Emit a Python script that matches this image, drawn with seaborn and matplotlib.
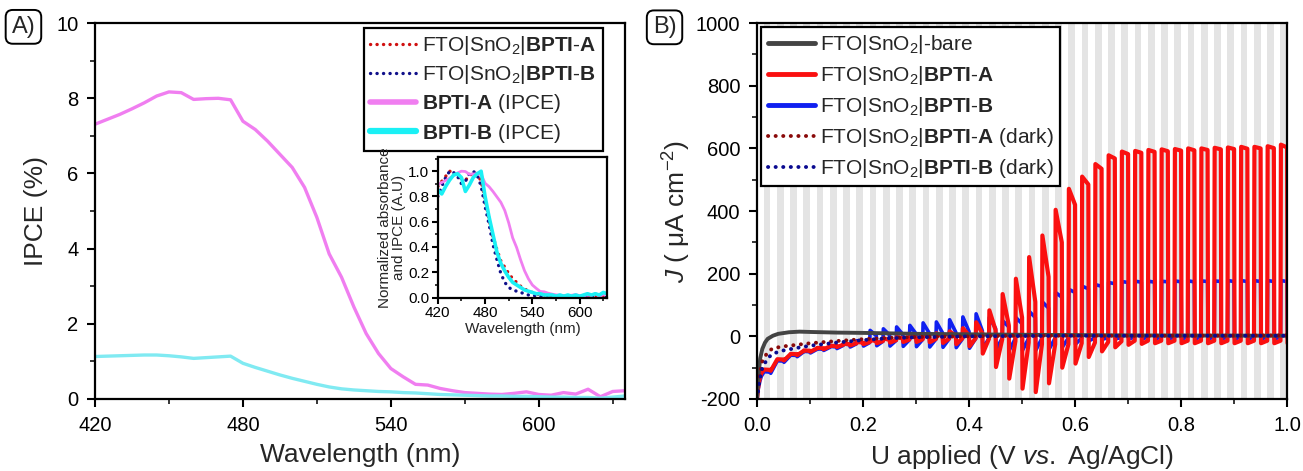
import numpy as np
import seaborn as sns
import matplotlib.pyplot as plt
from matplotlib.ticker import MultipleLocator

# ---------------- data: panel A (IPCE) ----------------
wavelength = np.arange(420, 640, 5)
ipce_a = [7.31, 7.44, 7.57, 7.72, 7.88, 8.06, 8.17, 8.15, 7.97, 7.99,
          8.00, 7.96, 7.39, 7.17, 6.86, 6.51, 6.16, 5.63, 4.83, 3.86,
          3.24, 2.45, 1.74, 1.21, 0.81, 0.59, 0.39, 0.37, 0.28, 0.22,
          0.17, 0.15, 0.13, 0.12, 0.15, 0.19, 0.12, 0.10, 0.17, 0.13,
          0.26, 0.06, 0.20, 0.22]
ipce_b = [1.13, 1.14, 1.15, 1.16, 1.17, 1.17, 1.15, 1.12, 1.08, 1.10,
          1.12, 1.14, 0.95, 0.84, 0.74, 0.64, 0.55, 0.47, 0.39, 0.32,
          0.27, 0.24, 0.22, 0.20, 0.19, 0.17, 0.16, 0.14, 0.12, 0.11,
          0.10, 0.09, 0.08, 0.08, 0.07, 0.07, 0.06, 0.05, 0.05, 0.04,
          0.04, 0.02, 0.05, 0.08]
# inset (normalized)
norm_ipce_b = [0.85, 0.82, 0.88, 0.93, 0.97, 0.98, 0.95, 0.84, 0.89, 0.95,
               0.98, 1.00, 0.80, 0.64, 0.50, 0.36, 0.27, 0.21, 0.16, 0.12,
               0.10, 0.08, 0.06, 0.05, 0.04, 0.03, 0.03, 0.02, 0.02, 0.02,
               0.01, 0.02, 0.01, 0.02, 0.01, 0.02, 0.01, 0.02, 0.03, 0.02,
               0.03, 0.02, 0.04, 0.03]
abs_a = [0.88, 0.92, 0.96, 1.00, 0.99, 0.97, 0.94, 0.93, 0.96, 0.99,
         0.98, 0.92, 0.78, 0.62, 0.48, 0.38, 0.29, 0.24, 0.19, 0.15,
         0.12, 0.09, 0.07, 0.05, 0.04, 0.03, 0.02, 0.02, 0.01, 0.01,
         0.01, 0.01, 0.01, 0.01, 0.01, 0.01, 0.01, 0.01, 0.01, 0.01,
         0.01, 0.01, 0.01, 0.01]
abs_b = [0.80, 0.88, 0.95, 1.00, 0.99, 0.96, 0.90, 0.92, 0.98, 1.00,
         0.97, 0.88, 0.72, 0.58, 0.42, 0.30, 0.19, 0.12, 0.08, 0.06,
         0.05, 0.04, 0.03, 0.02, 0.02, 0.01, 0.01, 0.00, 0.00, 0.00,
         0.00, 0.00, 0.00, 0.00, 0.00, 0.00, 0.00, 0.00, 0.00, 0.00,
         0.00, 0.00, 0.00, 0.00]

# ---------------- data: panel B (chopped-light J-U) ----------------
chop_period = 0.025
first_on = 0.0125
n_cycles = 40

bare_v = [0, 0.003, 0.006, 0.01, 0.015, 0.02, 0.03, 0.04, 0.06, 0.08,
          0.1, 0.15, 0.2, 0.3, 0.5, 0.7, 1.0]
bare_j = [-200, -120, -70, -40, -20, -8, 2, 8, 13, 15,
          14, 12, 11, 8, 5, 3, 2]

dark_v = [0, 0.005, 0.01, 0.02, 0.03, 0.05, 0.075, 0.1, 0.15, 0.2,
          0.25, 0.3, 0.4, 0.5, 0.6, 0.8, 1.0]
dark_a = [-200, -120, -80, -50, -38, -32, -27, -22, -15, -9,
          -5, -2, 0, 2, 2, 2, 3]
dark_b = [-200, -140, -100, -70, -55, -45, -37, -30, -20, -12,
          -6, -3, 0, 1, 2, 2, 2]

red_lead_v = [0.0, 0.002, 0.005, 0.008]
red_lead_j = [-200, -165, -135, -118]
red_base = [-108, -75, -58, -47, -39, -32, -27, -22, -18, -15,
            -12, -10, -9, -8, -7, -6, -6, -8, -10, -15,
            -20, -25, -25, -25, -22, -20, -18, -16, -14, -14,
            -14, -14, -14, -14, -14, -14, -14, -14, -14, -14]
red_peak = [-106, -73, -56, -45, -37, -30, -24, -18, -12, -7,
            -2, 3, 6, 10, 16, 26, 45, 83, 135, 184,
            253, 322, 404, 471, 510, 550, 578, 590, 592, 595,
            597, 598, 600, 600, 602, 603, 605, 605, 607, 612]
red_plat = [-107, -74, -57, -46, -38, -31, -25, -20, -15, -11,
            -7, -5, -3, -1, 1, 3, 10, 20, 35, 60,
            110, 190, 300, 420, 485, 535, 568, 582, 586, 589,
            591, 593, 594, 595, 597, 598, 599, 600, 601, 603]
red_dip = [-110, -77, -60, -49, -41, -34, -29, -25, -22, -20,
           -18, -18, -19, -21, -25, -32, -55, -98, -135, -167,
           -178, -150, -100, -87, -66, -48, -35, -27, -24, -22,
           -22, -22, -22, -22, -22, -22, -22, -22, -22, -22]

blue_lead_v = [0.0, 0.002, 0.005, 0.008]
blue_lead_j = [-200, -170, -145, -128]
blue_base = [-115, -80, -62, -50, -42, -35, -29, -24, -20, -16,
             -13, -11, -10, -9, -8, -8, -7, -6, -6, -6,
             -6, -6, -5, -5, -5, -4, -4, -4, -3, -3,
             -3, -3, -3, -3, -3, -3, -3, -3, -3, -3]
blue_peak = [-113, -78, -60, -48, -40, -32, -24, -14, 19, 24,
             30, 35, 43, 46, 53, 62, 72, 60, 50, 60,
             80, 110, 140, 150, 160, 165, 172, 175, 176, 176,
             176, 177, 177, 177, 177, 178, 178, 178, 178, 178]
blue_plat = [-114, -79, -61, -49, -41, -34, -27, -21, 2, 4,
             6, 8, 10, 11, 13, 15, 18, 25, 30, 40,
             60, 90, 125, 140, 152, 160, 168, 172, 173, 173,
             174, 174, 174, 175, 175, 175, 175, 175, 175, 175]
blue_dip = [-118, -83, -65, -53, -45, -39, -34, -31, -30, -31,
            -32, -33, -34, -35, -36, -38, -40, -42, -45, -45,
            -45, -42, -35, -25, -15, -10, -8, -8, -8, -8,
            -8, -8, -8, -8, -8, -8, -8, -8, -8, -8]

light_on = first_on + chop_period * np.arange(n_cycles)


def chop_trace(lead_v, lead_j, base, peak, plat, dip):
    v, j = list(lead_v), list(lead_j)
    half = chop_period / 2
    for k, on in enumerate(light_on):
        v += [on, on + 0.0008, on + half, on + half + 0.0008]
        j += [base[k], peak[k], plat[k], dip[k]]
    return v, j


red_v, red_j = chop_trace(red_lead_v, red_lead_j, red_base, red_peak, red_plat, red_dip)
blue_v, blue_j = chop_trace(blue_lead_v, blue_lead_j, blue_base, blue_peak, blue_plat, blue_dip)

# ---------------- style ----------------
sns.set_style("ticks")
plt.rcParams['font.family'] = ['Liberation Sans', 'DejaVu Sans']
plt.rcParams.update({
    'mathtext.fontset': 'custom',
    'mathtext.rm': 'Liberation Sans',
    'mathtext.it': 'Liberation Sans:italic',
    'mathtext.bf': 'Liberation Sans:bold',
    'axes.unicode_minus': False,
    'axes.linewidth': 1.6,
    'axes.edgecolor': 'black',
})

fig = plt.figure(figsize=(13.03, 4.71), dpi=100)
axA = fig.add_axes([0.0729, 0.1529, 0.4068, 0.798])
axB = fig.add_axes([0.581, 0.1529, 0.4068, 0.798])
axI = fig.add_axes([0.336, 0.367, 0.130, 0.299])

pink = '#F07EF0'
cyan_main = '#80EAF2'
cyan = '#1AF0F5'
red_dot = '#D01010'
navy_dot = '#10108A'
dots = (0, (0.05, 1.9))


def style_ticks(ax, size=14):
    ax.tick_params(which='major', direction='out', length=6, width=1.5,
                   labelsize=size, pad=6, colors='black')
    ax.tick_params(which='minor', direction='out', length=3.5, width=1.3)
    ax.tick_params(top=False, right=False, which='both')


# ---- panel A ----
sns.lineplot(x=wavelength, y=ipce_a, ax=axA, color=pink, lw=2.4, estimator=None)
sns.lineplot(x=wavelength, y=ipce_b, ax=axA, color=cyan_main, lw=2.4, estimator=None)
axA.set_xlim(420, 635)
axA.set_ylim(0, 10)
axA.xaxis.set_major_locator(MultipleLocator(60))
axA.xaxis.set_minor_locator(MultipleLocator(30))
axA.yaxis.set_major_locator(MultipleLocator(2))
axA.yaxis.set_minor_locator(MultipleLocator(1))
style_ticks(axA, 14.5)
axA.set_xlabel('Wavelength (nm)', fontsize=19, labelpad=6)
axA.set_ylabel('IPCE (%)', fontsize=19, labelpad=6)

# ---- inset ----
sns.lineplot(x=wavelength, y=abs_a, ax=axI, color=red_dot, lw=2.4,
             ls=dots, dash_capstyle='round', estimator=None)
sns.lineplot(x=wavelength, y=abs_b, ax=axI, color=navy_dot, lw=2.4,
             ls=dots, dash_capstyle='round', estimator=None)
sns.lineplot(x=wavelength, y=np.array(ipce_a) / max(ipce_a), ax=axI,
             color=pink, lw=2, estimator=None)
sns.lineplot(x=wavelength, y=norm_ipce_b, ax=axI, color=cyan, lw=2.6, estimator=None)
axI.set_xlim(420, 635)
axI.set_ylim(-0.005, 1.11)
axI.xaxis.set_major_locator(MultipleLocator(60))
axI.xaxis.set_minor_locator(MultipleLocator(30))
axI.yaxis.set_major_locator(MultipleLocator(0.2))
axI.yaxis.set_minor_locator(MultipleLocator(0.1))
axI.yaxis.set_major_formatter(plt.FormatStrFormatter('%.1f'))
style_ticks(axI, 11)
axI.tick_params(which='major', length=4, pad=2)
axI.tick_params(which='minor', length=2.5)
axI.set_xlabel('Wavelength (nm)', fontsize=11, labelpad=1)
axI.set_ylabel('Normalized absorbance\nand IPCE (A.U)', fontsize=11,
               labelpad=2, linespacing=1.0)

leg_lines = [axI.lines[0], axI.lines[1], axA.lines[0], axA.lines[1]]
leg_labels = [r'FTO|SnO$_2$|$\mathbf{BPTI}$-$\mathbf{A}$',
              r'FTO|SnO$_2$|$\mathbf{BPTI}$-$\mathbf{B}$',
              r'$\mathbf{BPTI}$-$\mathbf{A}$ (IPCE)',
              r'$\mathbf{BPTI}$-$\mathbf{B}$ (IPCE)']
legA = axA.legend(leg_lines, leg_labels, loc='upper right',
                  bbox_to_anchor=(0.958, 0.988), borderaxespad=0,
                  fontsize=15, frameon=True, fancybox=False,
                  edgecolor='black', framealpha=1, handlelength=2.2,
                  handletextpad=0.3, labelspacing=0.3, borderpad=0.3)
legA.get_frame().set_linewidth(1.6)
hl = legA.get_lines()
hl[2].set_linewidth(4)
hl[3].set_color(cyan)
hl[3].set_linewidth(4.5)

# ---- panel B ----
for on in light_on:
    axB.axvspan(on, on + chop_period / 2, color='#E4E4E4', lw=0, zorder=0)

sns.lineplot(x=blue_v, y=blue_j, ax=axB, color='#1020F0', lw=2.6,
             sort=False, estimator=None)
sns.lineplot(x=red_v, y=red_j, ax=axB, color='#FA1010', lw=3.0,
             sort=False, estimator=None)
sns.lineplot(x=bare_v, y=bare_j, ax=axB, color='#444444', lw=2.8, estimator=None)
sns.lineplot(x=dark_v, y=dark_a, ax=axB, color='#8A0A0A', lw=2.8,
             ls=dots, dash_capstyle='round', estimator=None)
sns.lineplot(x=dark_v, y=dark_b, ax=axB, color='#0A0A90', lw=2.8,
             ls=dots, dash_capstyle='round', estimator=None)
axB.set_xlim(0, 1.0)
axB.set_ylim(-200, 1000)
axB.xaxis.set_major_locator(MultipleLocator(0.2))
axB.xaxis.set_minor_locator(MultipleLocator(0.1))
axB.xaxis.set_major_formatter(plt.FormatStrFormatter('%.1f'))
axB.yaxis.set_major_locator(MultipleLocator(200))
axB.yaxis.set_minor_locator(MultipleLocator(100))
style_ticks(axB, 14.5)
axB.set_xlabel(r'U applied (V $\mathit{vs.}$ Ag/AgCl)', fontsize=19, labelpad=6)
axB.set_ylabel(r'$J$ ( μA cm$^{-2}$)', fontsize=19, labelpad=2)

b_lines = [axB.lines[2], axB.lines[1], axB.lines[0], axB.lines[3], axB.lines[4]]
b_labels = [r'FTO|SnO$_2$|-bare',
            r'FTO|SnO$_2$|$\mathbf{BPTI}$-$\mathbf{A}$',
            r'FTO|SnO$_2$|$\mathbf{BPTI}$-$\mathbf{B}$',
            r'FTO|SnO$_2$|$\mathbf{BPTI}$-$\mathbf{A}$ (dark)',
            r'FTO|SnO$_2$|$\mathbf{BPTI}$-$\mathbf{B}$ (dark)']
legB = axB.legend(b_lines, b_labels, loc='upper left',
                  bbox_to_anchor=(0.008, 0.99), borderaxespad=0,
                  fontsize=15, frameon=True, fancybox=False,
                  edgecolor='black', framealpha=1, handlelength=2.3,
                  handletextpad=0.2, labelspacing=0.38, borderpad=0.3)
legB.get_frame().set_linewidth(1.6)
for ln in legB.get_lines()[:3]:
    ln.set_linewidth(3.5)

# panel tags
box = dict(boxstyle='round,pad=0.25,rounding_size=0.3', fc='white', ec='black', lw=1.4)
fig.text(0.018, 0.943, 'A)', fontsize=17, ha='center', va='center', bbox=box)
fig.text(0.510, 0.942, 'B)', fontsize=17, ha='center', va='center', bbox=box)

fig.savefig('out.png', dpi=100)
